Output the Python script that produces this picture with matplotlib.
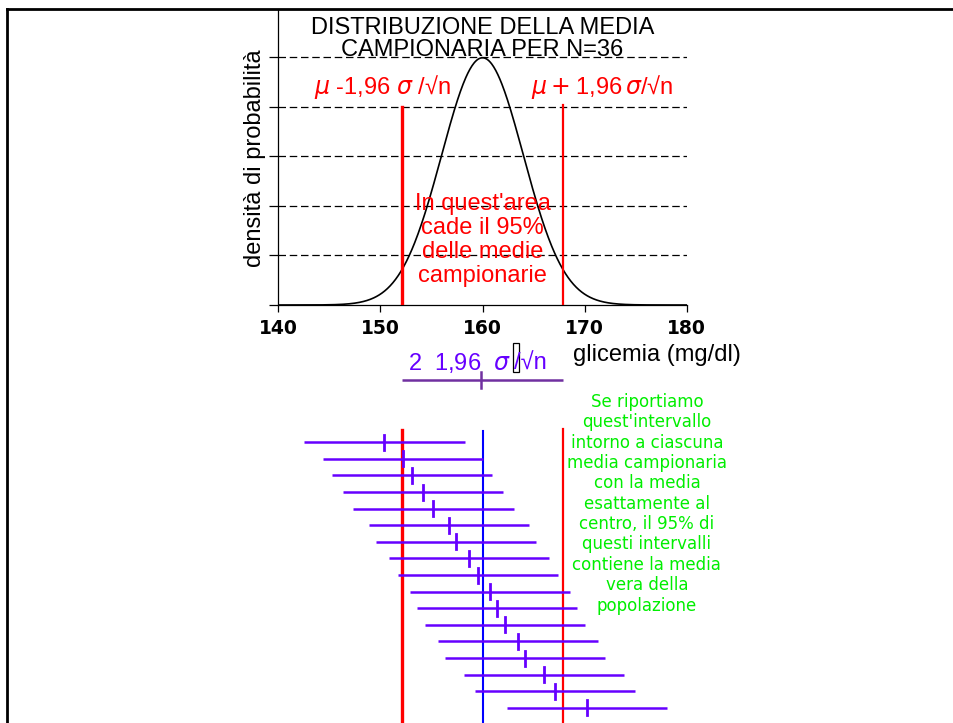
import matplotlib.pyplot as plt
from matplotlib.lines import Line2D
from matplotlib.patches import Rectangle
import numpy as np

plt.rcParams['font.family'] = ['Liberation Sans', 'DejaVu Sans']
plt.rcParams['mathtext.fontset'] = 'dejavusans'

mu = 160.0      # media della popolazione
se = 4.0        # sigma / sqrt(n) = 24 / 6
z = 1.96
x_ticks = [140, 150, 160, 170, 180]
y_grid = [0.02, 0.04, 0.06, 0.08, 0.10]

# medie campionarie (una per riga, dall'alto in basso)
sample_means = [150.4, 152.2, 153.1, 154.2, 155.2, 156.7, 157.4, 158.7, 159.6,
                160.7, 161.4, 162.2, 163.5, 164.2, 166.0, 167.1, 170.2]

green_text = ("Se riportiamo\nquest'intervallo\nintorno a ciascuna\nmedia campionaria\n"
              "con la media\nesattamente al\ncentro, il 95% di\nquesti intervalli\n"
              "contiene la media\nvera della\npopolazione")

W, H = 954, 723
fig = plt.figure(figsize=(W / 100, H / 100), dpi=100)

RED = '#FF0000'
BLUE = '#0000FF'
PURPLE = '#6600FF'
GREEN = '#00EE00'

lo, hi = mu - z * se, mu + z * se

# ---- parte alta: densita' della media campionaria
ax1 = fig.add_axes([278.3 / W, 1 - 305 / H, 408.4 / W, 295 / H])
xs = np.linspace(140, 180, 600)
dens = np.exp(-0.5 * ((xs - mu) / se) ** 2) / (se * np.sqrt(2 * np.pi))
ax1.plot(xs, dens, color='black', lw=1.2, zorder=3)
ax1.set_xlim(140, 180)
ax1.set_ylim(0, 0.119)
for g in y_grid:
    ax1.axhline(g, color='black', lw=0.9, ls=(0, (6, 3)), zorder=1)
ax1.plot([lo, lo], [0, 0.08], color=RED, lw=2.4, zorder=4)
ax1.plot([hi, hi], [0, 0.0805], color=RED, lw=1.6, zorder=4)
ax1.spines['top'].set_visible(False)
ax1.spines['right'].set_visible(False)
for s in ('left', 'bottom'):
    ax1.spines[s].set_linewidth(0.9)
ax1.set_xticks(x_ticks)
ax1.set_xticklabels([str(t) for t in x_ticks], family='DejaVu Sans',
                    fontweight='bold', fontsize=13.5)
ax1.set_yticks([0] + y_grid)
ax1.set_yticklabels([])
ax1.tick_params(axis='y', length=6.5, width=0.9, direction='out')
ax1.tick_params(axis='x', length=5, width=0.9, direction='out', pad=5)

ax1.text(160, 0.1073, "DISTRIBUZIONE DELLA MEDIA\nCAMPIONARIA PER N=36",
         ha='center', va='center', fontsize=17, linespacing=1.02, zorder=5)
ax1.text(150.2, 0.0879, r"$\mu$ -1,96 $\sigma$ /√n", color=RED, fontsize=17,
         ha='center', va='center')
ax1.text(171.75, 0.0879, r"$\mu + $1,96$\,\sigma$/√n", color=RED, fontsize=17,
         ha='center', va='center')
ax1.text(160, 0.0262, "In quest'area\ncade il 95%\ndelle medie\ncampionarie",
         color=RED, fontsize=17, ha='center', va='center', linespacing=1.12, zorder=5)
ax1.text(-0.057, 0.498, "densità di probabilità", transform=ax1.transAxes,
         rotation=90, ha='center', va='center', fontsize=17)

# ---- parte bassa: intervalli attorno a ciascuna media
ax2 = fig.add_axes([278.3 / W, 0, 408.4 / W, 393 / H])
ax2.set_xlim(140, 180)
ax2.set_ylim(16.91, -6.765)
ax2.axis('off')

ax2.plot([lo, lo], [-0.75, 16.91], color=RED, lw=2.4, zorder=2)
ax2.plot([mu, mu], [-0.69, 16.91], color=BLUE, lw=1.5, zorder=2)
ax2.plot([hi, hi], [-0.8, 16.91], color=RED, lw=1.6, zorder=2)

for i, m in enumerate(sample_means):
    ax2.plot([m - z * se, m + z * se], [i, i], color=PURPLE, lw=1.8,
             solid_capstyle='butt', zorder=3)
    ax2.plot([m, m], [i - 0.45, i + 0.45], color=PURPLE, lw=2.0, zorder=4)

# scala: ampiezza dell'intervallo
ax2.plot([lo, hi], [-3.75, -3.75], color='#7030A0', lw=1.8, solid_capstyle='butt')
ax2.plot([mu - 0.1, mu - 0.1], [-4.23, -3.27], color='#7030A0', lw=1.8)
ax2.text(152.7, -4.38, r"2  1,96  $\sigma$", color=PURPLE, fontsize=17,
         ha='left', va='baseline')
ax2.add_patch(Rectangle((163.0, -5.98), 0.6, 1.75, fill=False, edgecolor='black',
                        lw=0.9, clip_on=False))
ax2.text(163.1, -4.38, "/√n", color=PURPLE, fontsize=17, ha='left', va='baseline')
ax2.text(177.1, -5.27, "glicemia (mg/dl)", fontsize=17, ha='center', va='center')

ax2.text(176.1, 3.7, green_text, color=GREEN, family='DejaVu Sans', fontsize=12,
         ha='center', va='center', linespacing=1.17)

# cornice
fig.add_artist(Line2D([7 / W, 1], [1 - 8.5 / H, 1 - 8.5 / H], color='black', lw=2.0,
                      transform=fig.transFigure))
fig.add_artist(Line2D([7.5 / W, 7.5 / W], [0, 1 - 8.5 / H], color='black', lw=2.0,
                      transform=fig.transFigure))

fig.savefig("out.png", dpi=100)
